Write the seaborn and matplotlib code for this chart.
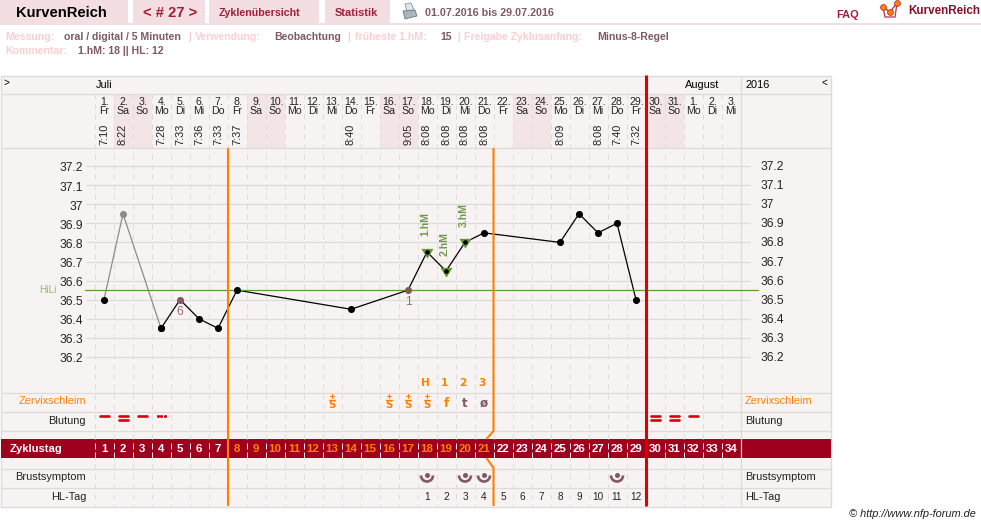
import matplotlib
matplotlib.use("Agg")
import matplotlib.pyplot as plt
from matplotlib.patches import Rectangle, Arc, Polygon
from matplotlib.path import Path
from matplotlib.transforms import ScaledTranslation
import pandas as pd
import seaborn as sns

# Measured temperatures by cycle day
early_days = [1, 2, 4]
early_temps = [36.5, 36.95, 36.35]
main_days = [4, 5, 6, 7, 8, 14, 17, 18, 19, 20, 21, 25, 26, 27, 28, 29]
main_temps = [36.35, 36.5, 36.4, 36.35, 36.55, 36.45, 36.55, 36.75, 36.65, 36.8,
              36.85, 36.8, 36.95, 36.85, 36.9, 36.5]
ignored_days = [2]
ignored_temps = [36.95]
flagged_days = [5, 17]
flagged_temps = [36.5, 36.55]
flagged_labels = ["6", "1"]
peak_days = [18, 19, 20]
peak_temps = [36.75, 36.65, 36.8]
peak_labels = ["1.hM", "2.hM", "3.hM"]
cover_line = 36.55
temp_ticks = [36.2, 36.3, 36.4, 36.5, 36.6, 36.7, 36.8, 36.9, 37.0, 37.1, 37.2]
temp_tick_labels = ["36.2", "36.3", "36.4", "36.5", "36.6", "36.7", "36.8", "36.9", "37", "37.1", "37.2"]

# Calendar header
calendar_dates = [str(d) + "." for d in list(range(1, 32)) + [1, 2, 3]]
calendar_weekdays = ["Fr", "Sa", "So", "Mo", "Di", "Mi", "Do"] * 4 + ["Fr", "Sa", "So", "Mo", "Di", "Mi"]
weekend_days = [2, 3, 9, 10, 16, 17, 23, 24, 30, 31]
time_days = [1, 2, 4, 5, 6, 7, 8, 14, 17, 18, 19, 20, 21, 25, 27, 28, 29]
time_labels = ["7:10", "8:22", "7:28", "7:33", "7:36", "7:33", "7:37", "8:40", "9:05",
               "8:08", "8:08", "8:08", "8:08", "8:09", "8:08", "7:40", "7:32"]

# Observation rows
mucus_s_days = [13, 16, 17, 18]
mucus_other_days = [19, 20, 21]
mucus_other_labels = ["f", "t", "ø"]
mucus_count_days = [18, 19, 20, 21]
mucus_count_labels = ["H", "1", "2", "3"]
bleed_single_days = [1, 3, 32]
bleed_double_days = [2, 30, 31]
bleed_spot_days = [4]
breast_days = [18, 20, 21, 28]
hl_days = list(range(18, 30))
phase_end_days = [7, 21]
cycle_end_day = 29
n_days = 34

ORANGE = "#FF8000"
RED = "#E00000"
WINE = "#9E001E"
MAUVE = "#7F5A60"
PINK = "#F9CFD2"
TAB = "#F3DFE1"
PANEL = "#F8F3F3"
WEEKEND = "#F3E4E6"
GRID = "#DDDBDB"
GREEN = "#5F9A2D"
TITLE = "#A0203A"

sns.set_style("white")
plt.rcParams["font.family"] = ["Liberation Sans", "DejaVu Sans"]


def px_size(p):
    return p * 0.72


def col_x(day):
    return 104 + 19 * (day - 1)


fig = plt.figure(figsize=(9.81, 5.26), dpi=100)
fig.patch.set_facecolor("white")

back = fig.add_axes([0, 0, 1, 1], zorder=0)
back.set_xlim(0, 981)
back.set_ylim(526, 0)
back.axis("off")

# Page header
for x0, x1 in [(0, 128), (133, 205), (209, 319), (325, 390)]:
    back.add_patch(Rectangle((x0, 0), x1 - x0, 23, fc=TAB, ec="none"))
back.add_patch(Rectangle((0, 23), 981, 2, fc=TAB, ec="none"))


def label(x, y, s, color="black", size=11, weight="normal", ha="left", **kw):
    return back.text(x, y, s, color=color, fontsize=px_size(size), fontweight=weight,
                     ha=ha, va="center", **kw)


label(16, 13, "KurvenReich", size=14.7, weight="bold")
label(143, 13, "< # 27 >", TITLE, 14.8, "bold")
label(219, 12.5, "Zyklenübersicht", TITLE, 10.6, "bold")
label(335, 12.5, "Statistik", TITLE, 11, "bold")
label(425, 12.5, "01.07.2016 bis 29.07.2016", MAUVE, 10.7, "bold")
label(836, 14.5, "FAQ", TITLE, 11, "bold")
label(908, 10.5, "KurvenReich", "#8C0F28", 11.6, "bold")
label(976, 514, "© http://www.nfp-forum.de", "#222222", 11, style="italic", ha="right")

for x, y, s, c in [(5, 36.5, "Messung:", PINK), (64, 36.5, "oral / digital / 5 Minuten", MAUVE),
                   (188, 36.5, "|", PINK), (195, 36.5, "Verwendung:", PINK),
                   (274, 36.5, "Beobachtung", MAUVE), (347, 36.5, "|", PINK),
                   (355, 36.5, "früheste 1.hM:", PINK), (440, 36.5, "15", MAUVE),
                   (457, 36.5, "|", PINK), (464, 36.5, "Freigabe Zyklusanfang:", PINK),
                   (597, 36.5, "Minus-8-Regel", MAUVE), (5, 51.5, "Kommentar:", PINK),
                   (78, 51.5, "1.hM: 18 || HL: 12", MAUVE)]:
    label(x, y, s, c, 10.5, "bold")

# Printer icon
back.add_patch(Polygon([(405, 4), (411, 3), (414, 10), (407, 11)], fc="#DCE8F0", ec="#8A949C", lw=0.6))
back.add_patch(Polygon([(403, 11), (415, 10), (417, 16), (405, 19)], fc="#A9B4BC", ec="#6E7880", lw=0.6))

# Logo
back.plot([883, 885, 895, 897], [7, 17, 17, 3], color="#C0304E", lw=0.9)
back.plot([883, 890, 897], [7, 12, 3], color="#C0304E", lw=1.0)
back.scatter([883, 890, 897], [7, 12, 3], s=18, color=ORANGE, edgecolor="#B5173A", linewidth=0.5, zorder=3)

# Chart panel and its rows
back.add_patch(Rectangle((0.5, 75.5), 830, 431, fc=PANEL, ec=GRID, lw=1))
for d in weekend_days:
    back.add_patch(Rectangle((col_x(d) - 9.5, 94), 19, 54, fc=WEEKEND, ec="none"))
for y in [93.5, 147.5, 392.5, 411.5, 430.5, 468.5, 487.5]:
    back.plot([0.5, 830.5], [y, y], color=GRID, lw=0.9, solid_capstyle="butt")
back.plot([740.5, 740.5], [75.5, 506.5], color=GRID, lw=0.9)
for d in range(1, n_days + 1):
    x = col_x(d) - 9.5
    back.plot([x, x], [94, 506], color=GRID, lw=0.72, ls=(0, (5, 5)))

# Cycle day band
back.add_patch(Rectangle((0.5, 439), 830, 19, fc=WINE, ec="none"))
label(10, 449, "Zyklustag", "white", 11.2, "bold")
for d in range(1, n_days + 1):
    x = col_x(d) - 9.5
    back.plot([x, x], [443, 458], color="#F3E4E6", lw=0.72, ls=(0, (5, 4)))
    colour = ORANGE if phase_end_days[0] < d <= phase_end_days[1] else "white"
    label(col_x(d), 449, str(d), colour, 11.5, "bold", ha="center")

# Calendar text
label(4, 83, ">", size=10)
label(96, 85, "Juli", size=11)
label(685, 85, "August", size=11)
label(745, 85, "2016", size=11)
label(821, 83, "<", size=10)
for i, (date, wd) in enumerate(zip(calendar_dates, calendar_weekdays)):
    label(col_x(i + 1) + 1, 102, date, "#222222", 10.5, ha="center")
    label(col_x(i + 1), 111, wd, "#222222", 10.5, ha="center")
for d, t in zip(time_days, time_labels):
    back.text(col_x(d), 134.5, t, color="#222222", fontsize=px_size(11), rotation=90, ha="center", va="center")

# Row captions on both sides
for y, s, c in [(401.5, "Zervixschleim", ORANGE), (420.5, "Blutung", "#222222"),
                (477.5, "Brustsymptom", "#222222"), (496.5, "HL-Tag", "#222222")]:
    label(86, y, s, c, 11, ha="right")
    label(745, y, s, c, 11)

# Mucus observations
SYMBOL_FONT = ["DejaVu Sans"]
for d, s in zip(mucus_count_days, mucus_count_labels):
    label(col_x(d) - 2, 383, s, ORANGE, 10.5, "bold", ha="center", family=SYMBOL_FONT)
for d in mucus_s_days:
    x = col_x(d) - 0.5
    back.plot([x - 2, x + 2], [396, 396], color=ORANGE, lw=0.8)
    back.plot([x, x], [394, 398], color=ORANGE, lw=0.8)
    back.plot([x - 3, x + 3], [400, 400], color=ORANGE, lw=0.9)
    label(x, 404.5, "S", ORANGE, 10, "bold", ha="center", family=SYMBOL_FONT)
for d, s, c in zip(mucus_other_days, mucus_other_labels, [ORANGE, MAUVE, MAUVE]):
    label(col_x(d), 403.5, s, c, 12, "bold", ha="center", family=SYMBOL_FONT)

# Bleeding marks
for d in bleed_single_days:
    back.plot([col_x(d) - 4.5, col_x(d) + 4.5], [416, 416], color="#D80010", lw=1.9, solid_capstyle="round")
for d in bleed_double_days:
    for y in (416, 420):
        back.plot([col_x(d) - 4.5, col_x(d) + 4.5], [y, y], color="#D80010", lw=1.9, solid_capstyle="round")
for d in bleed_spot_days:
    back.scatter([col_x(d) - 3.5, col_x(d), col_x(d) + 3.5], [416] * 3, s=5, color="#D80010", linewidth=0)

# Breast symptom glyphs
for d in breast_days:
    x = col_x(d)
    back.add_patch(Arc((x, 475.5), 12, 12, theta1=0, theta2=180, color=MAUVE, lw=1.9))
    back.scatter([x], [475], s=13, color=MAUVE, linewidth=0)

# Days of the high phase
for n, d in enumerate(hl_days, start=1):
    label(col_x(d), 496.5, str(n), "#222222", 10, ha="center")

# Temperature chart
temp = fig.add_axes([94.5 / 981, 1 - 392 / 526, 646 / 981, 244 / 526], zorder=1)
temp.patch.set_alpha(0)
early = pd.DataFrame({"day": early_days, "temp": early_temps})
main = pd.DataFrame({"day": main_days, "temp": main_temps})
sns.lineplot(data=early, x="day", y="temp", color="#8C8C8C", lw=0.9, ax=temp, estimator=None, sort=False)
sns.lineplot(data=main, x="day", y="temp", color="black", lw=0.9, ax=temp, estimator=None, sort=False)
# Peak marker: the wide edge sits just above the point, the tip well below it
peak_marker = Path([(-1, 0.6), (1, 0.6), (0, -1), (-1, 0.6)], closed=True)
sns.scatterplot(x=peak_days, y=peak_temps, marker=peak_marker, s=76, color=GREEN, linewidth=0, ax=temp, zorder=3)
other = [(d, t) for d, t in zip(main_days + early_days, main_temps + early_temps)
         if d not in ignored_days + flagged_days + peak_days]
sns.scatterplot(x=[o[0] for o in other], y=[o[1] for o in other], s=26, color="black",
                linewidth=0, ax=temp, zorder=4)
sns.scatterplot(x=peak_days, y=peak_temps, s=11, color="black", linewidth=0, ax=temp, zorder=4)
sns.scatterplot(x=ignored_days, y=ignored_temps, s=26, color="#8C8C8C", linewidth=0, ax=temp, zorder=4)
sns.scatterplot(x=flagged_days, y=flagged_temps, s=26, color=MAUVE, linewidth=0, ax=temp, zorder=4)
temp.set_xlim(0.5, 34.5)
temp.set_ylim(37.2 - 226 / 191, 37.2 + 18 / 191)
temp.set_xlabel("")
temp.set_ylabel("")
temp.set_xticks([])
temp.set_yticks(temp_ticks)
temp.set_yticklabels(temp_tick_labels, fontsize=px_size(12), color="#222222")
temp.tick_params(axis="y", length=px_size(9.5), width=0.9, color=GRID, pad=1.5, left=True, right=True)
down_one_px = ScaledTranslation(0, -1 / 100, fig.dpi_scale_trans)
for lab in temp.get_yticklabels():
    lab.set_transform(lab.get_transform() + down_one_px)
temp.grid(axis="y", color=GRID, lw=0.9)
for spine in temp.spines.values():
    spine.set_visible(False)
for t, s in zip(temp_ticks, temp_tick_labels):
    temp.annotate(s, (34.5, t), xytext=(px_size(20.5), px_size(-1)), textcoords="offset points",
                  va="center", ha="left", fontsize=px_size(12), color="#222222", annotation_clip=False)

# Cover line
temp.plot([0, 35.4], [cover_line, cover_line], color=GREEN, lw=0.9, clip_on=False, zorder=2)
temp.annotate("HiLi", (0.5, cover_line), xytext=(px_size(-38), 0), textcoords="offset points",
              va="center", ha="right", fontsize=px_size(10), color="#8FB56A", annotation_clip=False)

# Labels beside the marks
for d, t, s in zip(flagged_days, flagged_temps, flagged_labels):
    temp.annotate(s, (d, t), xytext=(0, px_size(-12)), textcoords="offset points", ha="center",
                  va="center", fontsize=px_size(12), color="#9A6C72")
for d, t, s in zip(peak_days, peak_temps, peak_labels):
    temp.annotate(s, (d, t), xytext=(px_size(-1.5), px_size(15.5)), textcoords="offset points", ha="center",
                  va="bottom", rotation=90, fontsize=px_size(10.5), fontweight="bold", color="#6F9A4A")

# Phase boundaries on top of everything
over = fig.add_axes([0, 0, 1, 1], zorder=2)
over.set_xlim(0, 981)
over.set_ylim(526, 0)
over.axis("off")
over.plot([col_x(phase_end_days[0]) + 9.5] * 2, [148, 506], color=ORANGE, lw=1.5, solid_capstyle="butt")
xe = col_x(phase_end_days[1]) + 9.5
over.plot([xe, xe, xe - 7], [148, 431, 439], color=ORANGE, lw=1.5, solid_joinstyle="miter", solid_capstyle="butt")
over.plot([xe - 7, xe, xe], [458, 468, 506], color=ORANGE, lw=1.5, solid_joinstyle="miter", solid_capstyle="butt")
over.plot([col_x(cycle_end_day) + 9.5] * 2, [75, 506], color=RED, lw=2.2, solid_capstyle="butt")

fig.savefig("out.png", dpi=100)
